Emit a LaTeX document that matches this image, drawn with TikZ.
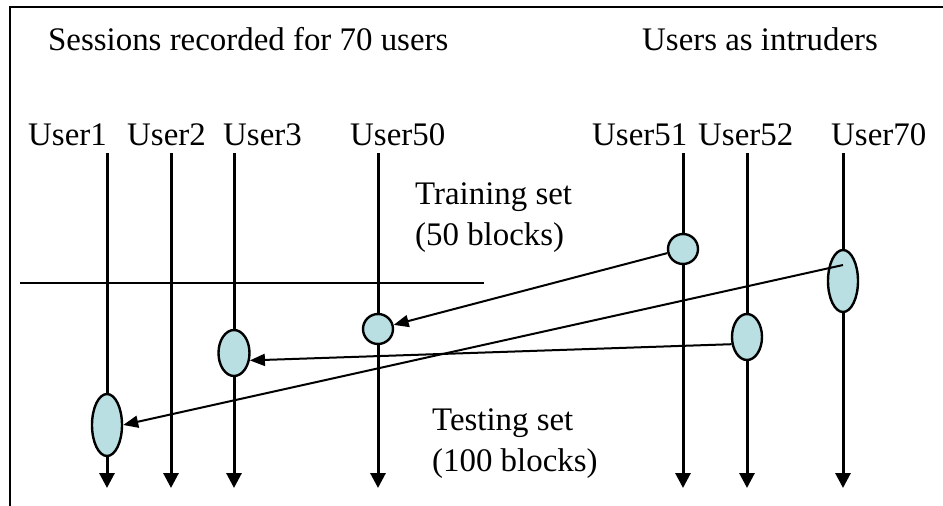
\documentclass[tikz,border=0pt]{standalone}
\usepackage{fontspec}
\setmainfont{Liberation Serif}
\usetikzlibrary{shapes.geometric,arrows.meta}
\definecolor{blobfill}{HTML}{B9DFE3}
\tikzset{
  txt/.style={anchor=base west,inner sep=0pt,font=\fontsize{32.9}{40}\selectfont},
  timeline/.style={line width=3pt,-{Triangle[length=15pt,width=15pt]}},
  blob/.style={ellipse,draw=black,line width=2.4pt,fill=blobfill,inner sep=0pt,minimum width=30pt},
  conn/.style={line width=2pt,-{Triangle[length=15pt,width=12pt]}},
}
\begin{document}
\begin{tikzpicture}[x=1pt,y=-1pt]
\useasboundingbox (0,0) rectangle (943,506);
% frame (top and left edges)
\coordinate (fbl) at (10,506);
\coordinate (ftl) at (10,7);
\coordinate (ftr) at (943,7);
\draw[line width=2pt] (fbl) -- (ftl) -- (ftr);
% headings
\node[txt] (sess) at (48,50) {Sessions recorded for 70 users};
\node[txt] (intr) at (642,50) {Users as intruders};
% user labels
\node[txt] (l1) at (28,145) {User1};
\node[txt] (l2) at (127,145) {User2};
\node[txt] (l3) at (223,145) {User3};
\node[txt] (l50) at (350,145) {User50};
\node[txt] (l51) at (592,145) {User51};
\node[txt] (l52) at (698,145) {User52};
\node[txt] (l70) at (831,145) {User70};
% timelines
\foreach \n/\x in {1/107,2/171,3/234,50/378,51/683,52/747,70/843}{
  \coordinate (t\n) at (\x,153);
  \coordinate (b\n) at (\x,488);
  \draw[timeline] (t\n) -- (b\n);
}
% separator
\coordinate (sepl) at (20,283);
\coordinate (sepr) at (484,283);
\draw[line width=2pt] (sepl) -- (sepr);
% set labels
\node[txt] (tr1) at (415,204) {Training set};
\node[txt] (tr2) at (415,245) {(50 blocks)};
\node[txt] (te1) at (432,430) {Testing set};
\node[txt] (te2) at (432,471) {(100 blocks)};
% blobs
\node[blob,minimum height=30pt] (c51) at (683,249) {};
\node[blob,minimum height=62pt] (c70) at (843,281) {};
\node[blob,minimum height=46pt] (c52) at (747,337) {};
\node[blob,minimum height=30pt] (c50) at (378,329) {};
\node[blob,minimum height=46pt,minimum width=31pt] (c3) at (234,353) {};
\node[blob,minimum height=62pt] (c1) at (107,425) {};
% connectors
\coordinate (s70) at (843,265);
\draw[conn] (c51) -- (c50);
\draw[conn] (c52.205) -- (c3.335);
\draw[conn] (s70) -- (c1.east);
\end{tikzpicture}
\end{document}
